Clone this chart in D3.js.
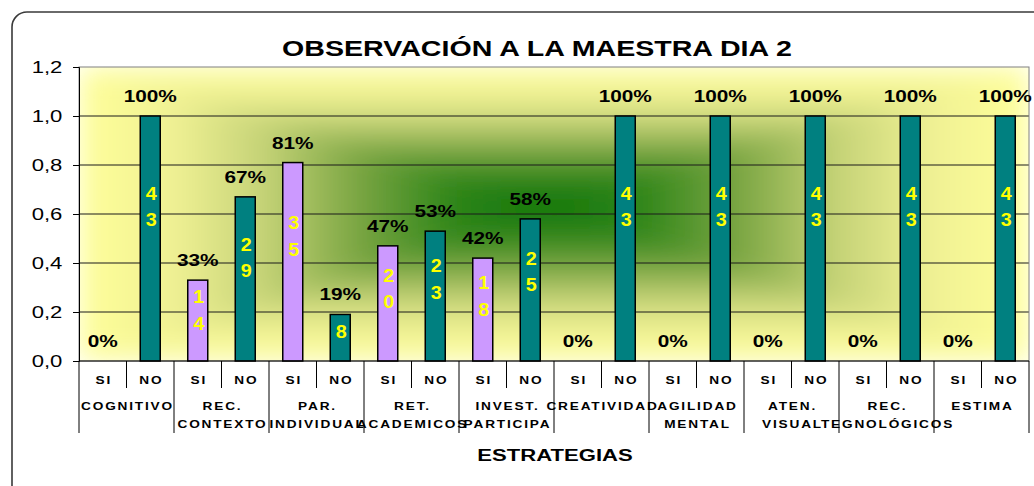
<!DOCTYPE html>
<html>
<head>
<meta charset="utf-8">
<script src="https://cdn.jsdelivr.net/npm/d3@7"></script>
<style>
  html, body { margin: 0; background: #fff; overflow: hidden; }
  svg { display: block; font-family: "Liberation Sans", Arial, sans-serif; }
</style>
</head>
<body>
<div id="chart"></div>
<script>
var groupLines = [
    ["COGNITIVO"],
    ["REC.", "CONTEXTO"],
    ["PAR.", "INDIVIDUAL"],
    ["RET.", "ACADEMICOS"],
    ["INVEST.", "PARTICIPA"],
    ["CREATIVIDAD"],
    ["AGILIDAD", "MENTAL"],
    ["ATEN.", "VISUAL"],
    ["REC.", "TEGNOLÓGICOS"],
    ["ESTIMA"],
];
var answers = ["SI", "NO"];
var siValues = [0, 0.33, 0.81, 0.47, 0.42, 0, 0, 0, 0, 0];
var noValues = [1, 0.67, 0.19, 0.53, 0.58, 1, 1, 1, 1, 1];
var siCounts = [0, 14, 35, 20, 18, 0, 0, 0, 0, 0];
var noCounts = [43, 29, 8, 23, 25, 43, 43, 43, 43, 43];
var yTicks = [0, 0.2, 0.4, 0.6, 0.8, 1.0, 1.2];

var W = 1034, H = 486;
var SX = 1.3;   // the original picture is stretched sideways
var plotL = 79, plotR = 1029, plotT = 67, plotB = 361;
var cx = (plotL + plotR) / 2 - 10, cy = (plotT + plotB) / 2 - 8;

var groups = groupLines.map(function (g) { return g.join(" "); });

var bars = [];
groups.forEach(function (g, i) {
    bars.push({group: g, answer: "SI", value: siValues[i], count: siCounts[i]});
    bars.push({group: g, answer: "NO", value: noValues[i], count: noCounts[i]});
});

var svg = d3.select("#chart").append("svg")
    .attr("width", W)
    .attr("height", H);

var x0 = d3.scaleBand().domain(groups).range([plotL, plotR]);
var x1 = d3.scaleBand().domain(answers).range([0, x0.bandwidth()]);
var y = d3.scaleLinear().domain([0, 1.2]).range([plotB, plotT]);
var barW = 20;

function barCenter(d) { return x0(d.group) + x1(d.answer) + x1.bandwidth() / 2; }

function txt(parent, x, yy, str, size, weight, color, spacing, sx) {
    return parent.append("text")
        .attr("transform", "translate(" + x + "," + yy + ") scale(" + (sx || SX) + ",1)")
        .attr("text-anchor", "middle")
        .style("font-size", size + "px")
        .style("font-weight", weight || "normal")
        .style("letter-spacing", (spacing || 0) + "px")
        .attr("fill", color || "#000")
        .text(str);
}

// outer frame
svg.append("rect")
    .attr("x", 12).attr("y", 12)
    .attr("width", 1040).attr("height", 490)
    .attr("rx", 15)
    .attr("fill", "none")
    .attr("stroke", "#3a3a3a")
    .attr("stroke-width", 1.6);

// rectangular "from center" gradient: four triangles, softened with a blur
var stops = [
    [0, "#0f740a"], [0.2, "#2f861a"], [0.4, "#7aa542"],
    [0.6, "#c4d276"], [0.8, "#f0f194"], [1, "#ffff99"]
];
var defs = svg.append("defs");
defs.append("clipPath").attr("id", "plotClip")
    .append("rect")
    .attr("x", plotL).attr("y", plotT)
    .attr("width", plotR - plotL).attr("height", plotB - plotT);
defs.append("filter").attr("id", "soft")
    .attr("filterUnits", "userSpaceOnUse")
    .attr("x", plotL).attr("y", plotT)
    .attr("width", plotR - plotL).attr("height", plotB - plotT)
    .append("feGaussianBlur")
    .attr("stdDeviation", 14)
    .attr("edgeMode", "duplicate");

var bg = svg.append("g")
    .attr("clip-path", "url(#plotClip)")
    .append("g")
    .attr("filter", "url(#soft)");
var sides = [
    {id: "gL", to: [plotL, cy], pts: [[plotL, plotT], [plotL, plotB], [cx, cy]]},
    {id: "gR", to: [plotR, cy], pts: [[plotR, plotT], [plotR, plotB], [cx, cy]]},
    {id: "gT", to: [cx, plotT], pts: [[plotL, plotT], [plotR, plotT], [cx, cy]]},
    {id: "gB", to: [cx, plotB], pts: [[plotL, plotB], [plotR, plotB], [cx, cy]]},
];
sides.forEach(function (s) {
    var g = defs.append("linearGradient")
        .attr("id", s.id)
        .attr("gradientUnits", "userSpaceOnUse")
        .attr("x1", cx).attr("y1", cy)
        .attr("x2", s.to[0]).attr("y2", s.to[1]);
    stops.forEach(function (st) {
        g.append("stop").attr("offset", st[0]).attr("stop-color", st[1]);
    });
    bg.append("polygon")
        .attr("points", s.pts.map(function (p) { return p.join(","); }).join(" "))
        .attr("fill", "url(#" + s.id + ")")
        .attr("stroke", "url(#" + s.id + ")")
        .attr("stroke-width", 1);
});

// gridlines
svg.append("g").selectAll("line")
    .data(yTicks.filter(function (t) { return t > 0 && t < 1.2; }))
    .enter().append("line")
    .attr("x1", plotL).attr("x2", plotR)
    .attr("y1", function (d) { return y(d); })
    .attr("y2", function (d) { return y(d); })
    .attr("stroke", "#1a1a1a")
    .attr("stroke-width", 1);

// plot border
svg.append("rect")
    .attr("x", plotL).attr("y", plotT)
    .attr("width", plotR - plotL).attr("height", plotB - plotT)
    .attr("fill", "none")
    .attr("stroke", "#808080")
    .attr("stroke-width", 1);

// y axis
var yAxis = d3.axisLeft(y)
    .tickValues(yTicks)
    .tickSize(6)
    .tickFormat("");
var gy = svg.append("g")
    .attr("transform", "translate(" + plotL + ",0)")
    .call(yAxis);
gy.select(".domain").attr("stroke", "#000");
gy.selectAll(".tick line").attr("stroke", "#000");
yTicks.forEach(function (t) {
    txt(svg, 47, y(t) + 6, d3.format(".1f")(t).replace(".", ","), 17, "normal", "#000");
});

// bars
svg.append("g").selectAll("rect")
    .data(bars.filter(function (d) { return d.value > 0; }))
    .enter().append("rect")
    .attr("x", function (d) { return barCenter(d) - barW / 2; })
    .attr("y", function (d) { return y(d.value); })
    .attr("width", barW)
    .attr("height", function (d) { return y(0) - y(d.value); })
    .attr("fill", function (d) { return d.answer === "SI" ? "#cc99ff" : "#008080"; })
    .attr("stroke", "#000")
    .attr("stroke-width", 1.5);

// percent labels
bars.forEach(function (d) {
    txt(svg, barCenter(d), y(d.value) - 14, d3.format(".0%")(d.value), 16, "bold", "#000");
});

// count labels, one digit per line
bars.filter(function (d) { return d.count > 0; }).forEach(function (d) {
    var digits = String(d.count).split("");
    var mid = y(d.value * 0.63);
    digits.forEach(function (ch, k) {
        var off = (k - (digits.length - 1) / 2) * 26.5;
        txt(svg, barCenter(d) + 1, mid + off + 6.5, ch, 18, "bold", "#ffff00", 0, 1.1);
    });
});

// category axis
svg.append("line")
    .attr("x1", plotL).attr("x2", plotR)
    .attr("y1", plotB).attr("y2", plotB)
    .attr("stroke", "#000");

var axisG = svg.append("g");
groups.forEach(function (g, i) {
    var gx = x0(g);
    axisG.append("line")
        .attr("x1", gx).attr("x2", gx)
        .attr("y1", plotB).attr("y2", 433)
        .attr("stroke", "#000");
    axisG.append("line")
        .attr("x1", gx + x1("NO")).attr("x2", gx + x1("NO"))
        .attr("y1", plotB).attr("y2", 388)
        .attr("stroke", "#000");
    answers.forEach(function (a) {
        txt(axisG, gx + x1(a) + x1.bandwidth() / 2 + 1, 384, a, 10.5, "bold", "#000", 1.4);
    });
    groupLines[i].forEach(function (line, k) {
        txt(axisG, gx + x0.bandwidth() / 2 + 1, 410 + k * 18, line, 10.5, "bold", "#000", 1.4);
    });
});
axisG.append("line")
    .attr("x1", plotR).attr("x2", plotR)
    .attr("y1", plotB).attr("y2", 433)
    .attr("stroke", "#000");

// titles
txt(svg, 537, 56, "OBSERVACIÓN A LA MAESTRA DIA 2", 22, "bold", "#000");
txt(svg, 555, 461, "ESTRATEGIAS", 17, "bold", "#000");
</script>
</body>
</html>
